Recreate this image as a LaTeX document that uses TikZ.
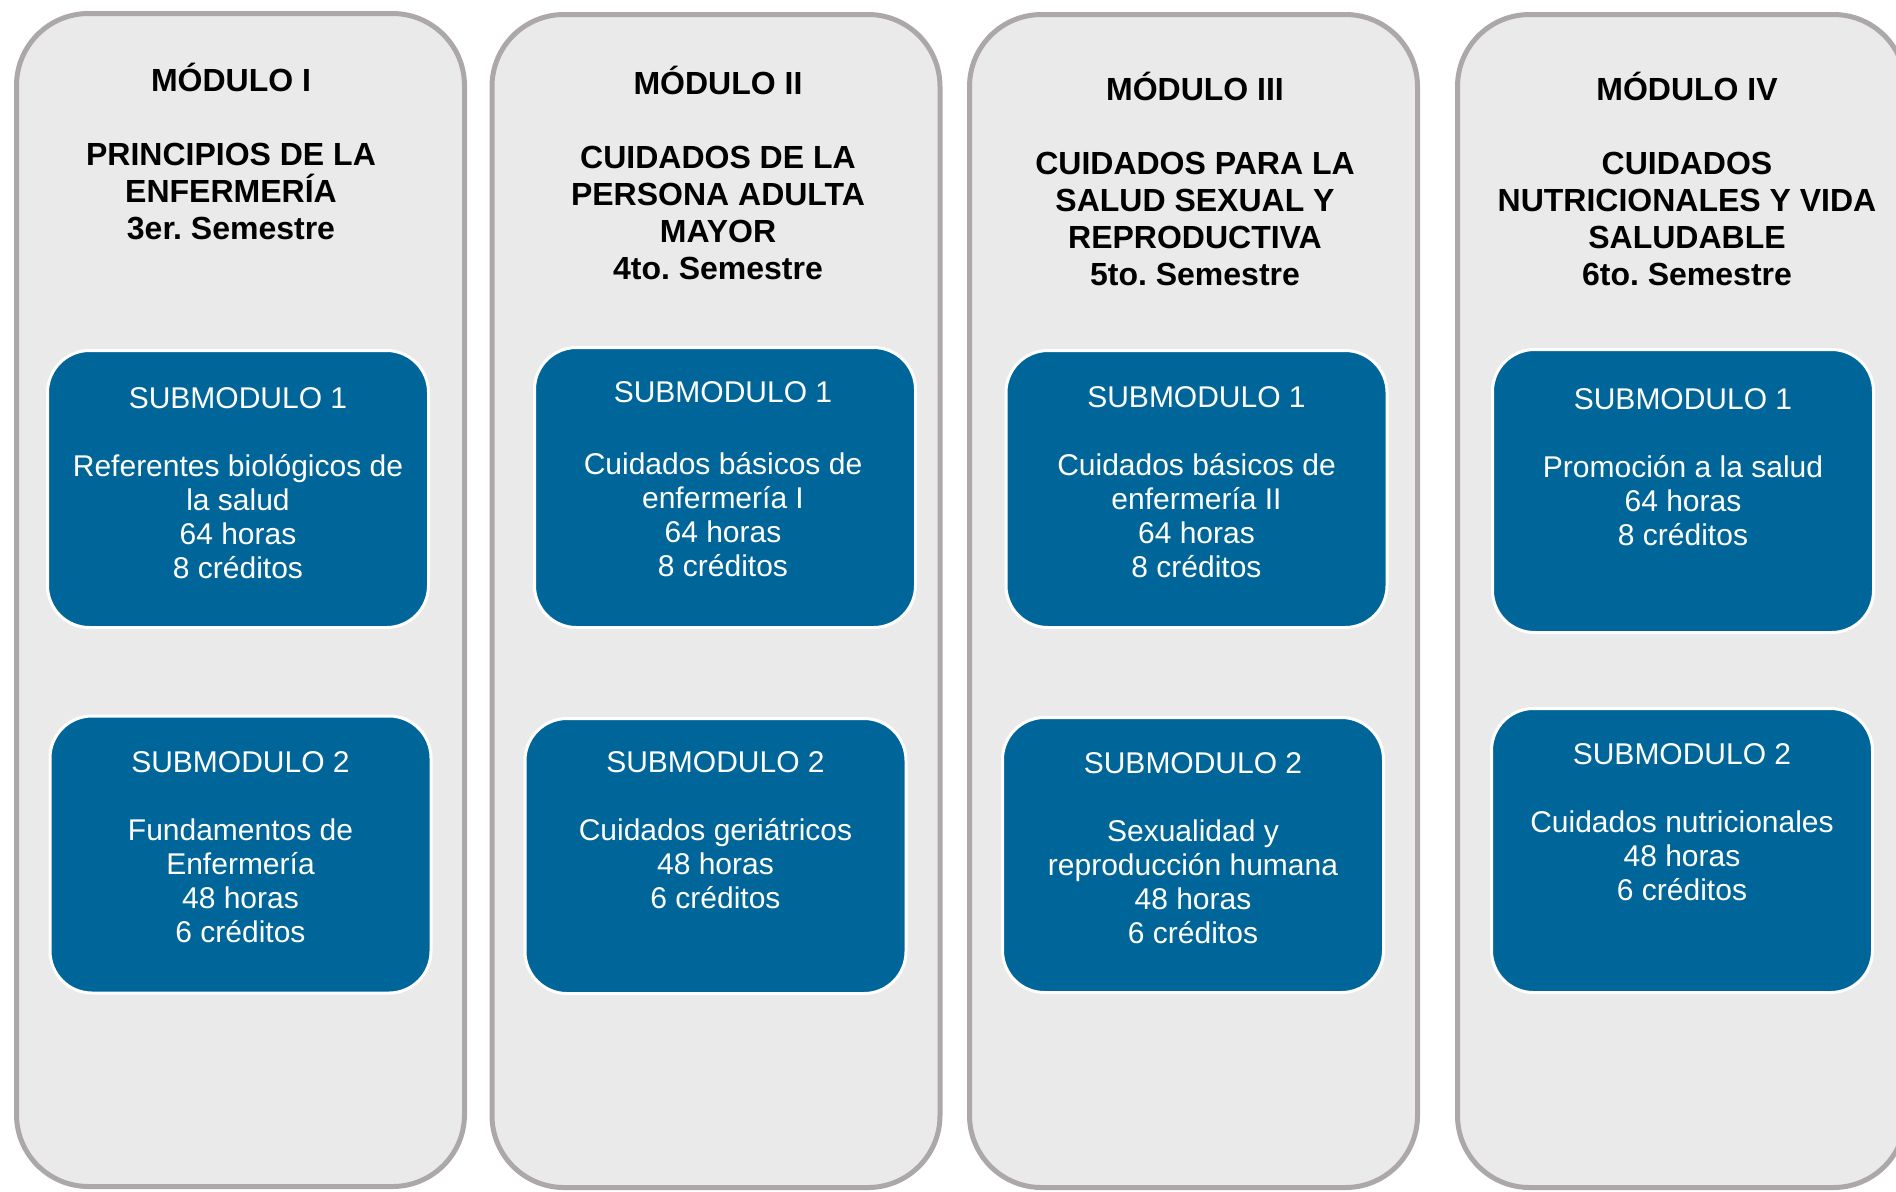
\documentclass[tikz,border=0pt]{standalone}
\usepackage{fontspec}
\setmainfont{Liberation Sans}
\frenchspacing
\usepackage{xcolor}
\usepackage{tikz}
\usetikzlibrary{positioning}
\definecolor{modgray}{HTML}{EAEAEA}
\definecolor{modline}{HTML}{ACA8A8}
\definecolor{subblue}{HTML}{006699}
\tikzset{modbox/.style={draw=modline,fill=modgray,line width=2.5pt,rounded corners=36pt,minimum width=224pt,minimum height=586.5pt,inner sep=0pt}}
\tikzset{subbox/.style={draw=white,fill=subblue,line width=1.5pt,rounded corners=21pt,minimum width=190.5pt,minimum height=138.5pt,inner sep=0pt}}
\tikzset{modtitle/.style={anchor=north,align=center,inner sep=0pt,font=\fontsize{16}{18.5}\selectfont\bfseries}}
\tikzset{subtext/.style={anchor=north,align=center,inner sep=0pt,text=white,font=\fontsize{15}{17}\selectfont}}

\begin{document}
\begin{tikzpicture}[x=0.5pt,y=-0.5pt]
    \clip (0,0) rectangle (1896,1191);

    \node[modbox] (m1) at (240.5,600) {};
    \node[modbox] (m2) at (716,601) {};
    \node[modbox] (m3) at (1193.5,601) {};
    \node[modbox] (m4) at (1681.5,601) {};

    \node[modtitle] (t1) at (231,63) {MÓDULO I\\[18.5pt]PRINCIPIOS DE LA\\ENFERMERÍA\\3er. Semestre};
    \node[modtitle] (t2) at (718,66) {MÓDULO II\\[18.5pt]CUIDADOS DE LA\\PERSONA ADULTA\\MAYOR\\4to. Semestre};
    \node[modtitle] (t3) at (1195,72) {MÓDULO III\\[18.5pt]CUIDADOS PARA LA\\SALUD SEXUAL Y\\REPRODUCTIVA\\5to. Semestre};
    \node[modtitle] (t4) at (1687,72) {MÓDULO IV\\[18.5pt]CUIDADOS\\NUTRICIONALES Y VIDA\\SALUDABLE\\6to. Semestre};

    \node[subbox] (s11) at (238,489) {};
    \node[subbox] (s12) at (240.5,854.5) {};
    \node[subbox,minimum height=140pt] (s21) at (725,487.5) {};
    \node[subbox,minimum height=137.5pt] (s22) at (715.5,856) {};
    \node[subbox] (s31) at (1196.5,489) {};
    \node[subbox,minimum height=137.5pt] (s32) at (1193,855) {};
    \node[subbox,minimum height=141.5pt] (s41) at (1683,491) {};
    \node[subbox,minimum height=142pt] (s42) at (1682,850.5) {};

    \node[subtext] (l11) at (238,387) {SUBMODULO 1\\[17pt]Referentes biológicos de\\la salud\\64 horas\\8 créditos};
    \node[subtext] (l12) at (240.5,751) {SUBMODULO 2\\[17pt]Fundamentos de\\Enfermería\\48 horas\\6 créditos};
    \node[subtext] (l21) at (723,381) {SUBMODULO 1\\[19pt]Cuidados básicos de\\enfermería I\\64 horas\\8 créditos};
    \node[subtext] (l22) at (715.5,751) {SUBMODULO 2\\[17pt]Cuidados geriátricos\\48 horas\\6 créditos};
    \node[subtext] (l31) at (1196.5,386) {SUBMODULO 1\\[17pt]Cuidados básicos de\\enfermería II\\64 horas\\8 créditos};
    \node[subtext] (l32) at (1193,752) {SUBMODULO 2\\[17pt]Sexualidad y\\reproducción humana\\48 horas\\6 créditos};
    \node[subtext] (l41) at (1683,388) {SUBMODULO 1\\[17pt]Promoción a la salud\\64 horas\\8 créditos};
    \node[subtext] (l42) at (1682,743) {SUBMODULO 2\\[17pt]Cuidados nutricionales\\48 horas\\6 créditos};
\end{tikzpicture}
\end{document}
